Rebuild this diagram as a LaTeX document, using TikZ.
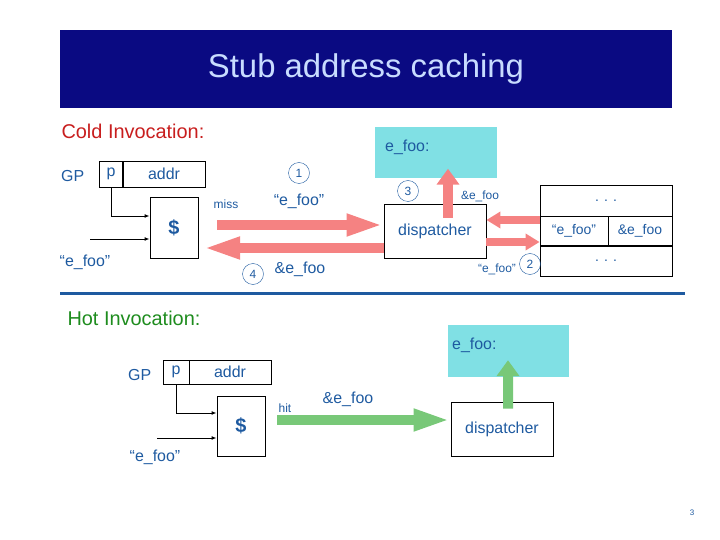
\documentclass[tikz,border=0pt]{standalone}
\usepackage{fontspec}
\setmainfont{Liberation Sans}
\usetikzlibrary{arrows.meta,positioning}
\definecolor{navy}{RGB}{10,10,130}
\definecolor{txtblue}{RGB}{30,90,160}
\definecolor{pinkred}{RGB}{245,130,130}
\definecolor{softgreen}{RGB}{120,200,120}
\definecolor{cyanbox}{RGB}{128,224,228}
\tikzset{
  box/.style={draw=black, thick, inner sep=0pt, text=txtblue},
  lbl/.style={text=txtblue, inner sep=0pt},
  num/.style={circle, draw=txtblue, thin, text=txtblue, minimum size=21bp, inner sep=0pt, font=\fontsize{12}{12}\selectfont},
  fat/.style={line width=10bp, -{Triangle[length=37bp,width=20bp]}},
  thin arrow/.style={draw=pinkred, line width=8bp, -{Triangle[length=14bp,width=16bp]}},
  ptr/.style={thick, -{Latex[length=5bp]}}
}
\begin{document}
\begin{tikzpicture}[x=1bp, y=-1bp]
		\useasboundingbox (0,0) rectangle (720,540);
		% title
		\node (title) [fill=navy, minimum width=612bp, minimum height=78bp, text={rgb,255:red,200;green,220;blue,255}, font=\fontsize{33}{33}\selectfont] at (366,69) {Stub address caching};
		
		% cold invocation
		\node (cold) [anchor=west, text={rgb,255:red,200;green,30;blue,30}, font=\fontsize{20}{20}\selectfont] at (58,131) {Cold Invocation:};
		\node (efooA) [fill=cyanbox, minimum width=122bp, minimum height=51bp] at (436,153) {};
		\node [lbl, anchor=west, font=\fontsize{16}{16}\selectfont] at (385,147) {e\_foo:};
		\node (gpA) [lbl, anchor=west, font=\fontsize{16}{16}\selectfont] at (61,176) {GP};
		\node (pA) [box, minimum width=23bp, minimum height=26bp, font=\fontsize{16}{16}\selectfont] at (111,174) {p};
		\node (addrA) [box, minimum width=82bp, minimum height=26bp, font=\fontsize{16}{16}\selectfont] at (164,174) {addr};
		\node (cacheA) [box, minimum width=48bp, minimum height=61bp, font=\bfseries\fontsize{20}{20}\selectfont] at (174,228) {\$};
		\coordinate (inA) at (90,239);
		\node (keyA) [lbl, font=\fontsize{16}{16}\selectfont] at (85,262) {``e\_foo''};
		\draw [ptr] (pA.south) |- ([yshift=12bp]cacheA.west);
		\draw [ptr] (inA) -- (inA -| cacheA.west);
		
		\node (dispA) [box, minimum width=102bp, minimum height=54bp, font=\fontsize{16}{16}\selectfont] at (435,231) {dispatcher};
		\node (tab1) [box, minimum width=132bp, minimum height=31bp, font=\fontsize{14}{14}\selectfont] at (606,201) {. . .};
		\node (tab2a) [box, minimum width=68bp, minimum height=29bp, font=\fontsize{14}{14}\selectfont] at (574,231) {``e\_foo''};
		\node (tab2b) [box, minimum width=64bp, minimum height=29bp, font=\fontsize{14}{14}\selectfont] at (640,231) {\&e\_foo};
		\node (tab3) [box, minimum width=132bp, minimum height=30bp, font=\fontsize{14}{14}\selectfont] at (606,261) {. . .};
		
		\node (miss) [lbl, font=\fontsize{12}{12}\selectfont] at (226,204) {miss};
		\node (one) [num] at (299,173) {1};
		\node (keyB) [lbl, font=\fontsize{16}{16}\selectfont] at (299,201) {``e\_foo''};
		\node (four) [num] at (253,274) {4};
		\node (retA) [lbl, font=\fontsize{16}{16}\selectfont] at (300,269) {\&e\_foo};
		\node (three) [num] at (408,191) {3};
		\node (jmpA) [lbl, font=\fontsize{12}{12}\selectfont] at (480,196) {\&e\_foo};
		\node (keyC) [lbl, font=\fontsize{12}{12}\selectfont] at (497,269) {``e\_foo''};
		\node (two) [num] at (530,264) {2};
		
		\coordinate (missS) at (217,225);
		\coordinate (retE) at (203,248);
		\draw [fat, pinkred] (missS) -- (missS -| dispA.west);
		\draw [fat, pinkred] (retE -| dispA.west) -- (retE);
		\draw [fat, pinkred, -{Triangle[length=16bp,width=22bp]}] ([xshift=13bp,yshift=-14bp]dispA.north) -- ([xshift=12bp,yshift=10bp]efooA.south);
		\draw [thin arrow] ([yshift=11bp]tab2a.west) -- ([yshift=11bp]dispA.east);
		\draw [thin arrow] ([yshift=-11bp]dispA.east) -- ([yshift=-11bp]tab2a.west);
		
		\draw [txtblue, line width=3bp] (60,293) -- (685,293);
		
		% hot invocation
		\node (hot) [anchor=west, text={rgb,255:red,30;green,140;blue,30}, font=\fontsize{20}{20}\selectfont] at (64,318) {Hot Invocation:};
		\node (efooB) [fill=cyanbox, minimum width=121bp, minimum height=52bp] at (508,351) {};
		\node [lbl, anchor=west, font=\fontsize{16}{16}\selectfont] at (452,345) {e\_foo:};
		\node (gpB) [lbl, anchor=west, font=\fontsize{16}{16}\selectfont] at (128,375) {GP};
		\node (pB) [box, minimum width=26bp, minimum height=24bp, font=\fontsize{16}{16}\selectfont] at (176,372) {p};
		\node (addrB) [box, minimum width=82bp, minimum height=24bp, font=\fontsize{16}{16}\selectfont] at (230,372) {addr};
		\node (cacheB) [box, minimum width=48bp, minimum height=60bp, font=\bfseries\fontsize{20}{20}\selectfont] at (241,426) {\$};
		\coordinate (inB) at (157,438);
		\node (keyD) [lbl, font=\fontsize{16}{16}\selectfont] at (155,457) {``e\_foo''};
		\draw [ptr] (pB.south) |- ([yshift=13bp]cacheB.west);
		\draw [ptr] (inB) -- (inB -| cacheB.west);
		
		\node (dispB) [box, minimum width=102bp, minimum height=54bp, font=\fontsize{16}{16}\selectfont] at (502,429) {dispatcher};
		\node (hit) [lbl, font=\fontsize{12}{12}\selectfont] at (285,408) {hit};
		\node (retB) [lbl, font=\fontsize{16}{16}\selectfont] at (348,399) {\&e\_foo};
		\coordinate (hitS) at (277,420);
		\draw [fat, softgreen] (hitS) -- (hitS -| dispB.west);
		\draw [fat, softgreen, -{Triangle[length=16bp,width=22bp]}] ([xshift=6bp,yshift=-7bp]dispB.north) -- ([yshift=17bp]efooB.south);
		
		\node (page) [lbl, font=\fontsize{8}{8}\selectfont] at (692,513) {3};
\end{tikzpicture}
\end{document}
